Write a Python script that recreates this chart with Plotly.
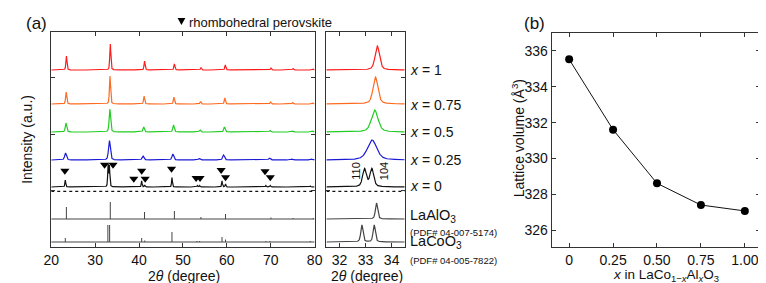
import numpy as np
import plotly.graph_objects as go

W, H = 766, 283

# ---------------- data ----------------
# Panel (a) main: peak positions (2theta, deg) and heights (a.u.)
RED_POS = [23.45, 33.45, 41.25, 48.05, 54.1, 59.65, 70.05, 75.1, 79.7]
RED_H = [14, 26, 9, 6, 2.5, 5, 2, 1.5, 1]
ORANGE_POS = [23.4, 33.38, 41.15, 47.95, 54.0, 59.55, 69.95, 75.0, 79.6]
ORANGE_H = [12, 28, 8, 7, 2.5, 6, 2, 1.5, 1]
GREEN_POS = [23.35, 33.35, 41.05, 47.85, 53.9, 59.45, 69.85, 74.9, 79.5]
GREEN_H = [9, 23, 5, 7, 2, 5, 1.5, 1, 1]
BLUE_POS = [23.25, 33.25, 40.9, 47.7, 53.7, 59.25, 69.7, 74.8, 79.3]
BLUE_H = [7, 19.5, 4, 6, 1.5, 5, 2, 1, 1]
BLACK_POS = [23.2, 32.95, 33.25, 40.6, 41.3, 47.5, 53.3, 53.8, 58.9, 59.7, 68.9, 69.9, 79.0]
BLACK_H = [7, 22, 21, 6, 2, 9.5, 1.5, 1.5, 6, 3, 1.5, 1.5, 1]

# Reference stick patterns
LAO_POS = [23.45, 33.45, 41.25, 48.05, 54.1, 59.7, 70.05, 75.1, 79.7]
LAO_H = [12, 17, 7, 8, 2, 5, 1.5, 1, 1]
LCO_POS = [23.2, 32.9, 33.3, 40.6, 41.3, 47.5, 53.2, 53.8, 58.9, 59.7, 68.9, 69.8, 79.0]
LCO_H = [4, 17, 17, 4, 1.5, 10, 1, 1, 5, 2.5, 1, 1, 1]

# Inset (31.5-34.5 deg): positions, heights, FWHM
RED_IN = ([33.45], [24], [0.2])
ORANGE_IN = ([33.38], [27], [0.22])
GREEN_IN = ([33.35], [22], [0.3])
BLUE_IN = ([33.25], [20], [0.42])
BLACK_IN = ([32.96, 33.24], [18, 18], [0.17, 0.17])
LAO_IN = ([33.42], [16], [0.1])
LCO_IN = ([32.86, 33.33], [17, 17], [0.1, 0.1])

# vertical offsets of each pattern
SAMPLE_LABELS = ["1", "0.75", "0.5", "0.25", "0"]
OFFSETS = [177, 143, 115, 87, 60]
COLORS = ["#ff1a1a", "#ff6a21", "#22cc22", "#1a1ad6", "#111111"]
MAIN_FWHM = [0.28, 0.3, 0.38, 0.48, 0.22]
DOT_Y = 55.7
LAO_OFF = 28
LCO_OFF = 5

# rhombohedral perovskite markers
TRI_X = [23.1, 32.15, 34.07, 38.8, 40.6, 41.4, 47.4, 53.0, 53.9, 58.7, 59.7, 68.7, 69.9]
TRI_Y = [76.3, 82.3, 82.3, 68.3, 76.3, 68.3, 78.3, 69, 69, 77, 69.7, 75.7, 69.7]

# Panel (b)
X_AL = [0, 0.25, 0.5, 0.75, 1.0]
VOLUME = [335.53, 331.61, 328.62, 327.41, 327.08]
XB_TICKS = [0, 0.25, 0.5, 0.75, 1.0]
XB_TEXT = ["0", "0.25", "0.50", "0.75", "1.00"]

# ---------------- helpers ----------------
def pv(x, pos, hts, ws, eta=0.5):
    y = np.zeros_like(x)
    for c, h, w in zip(pos, hts, ws):
        d = (x - c) / w
        y += h * (eta / (1 + 4 * d * d) + (1 - eta) * np.exp(-4 * np.log(2) * d * d))
    return y

def px_x(p):
    return p / W

def px_y(p):
    return 1 - p / H

xm = np.arange(20, 80.0001, 0.02)
xi = np.arange(31.5, 34.5001, 0.004)

fig = go.Figure()

all_main = [(RED_POS, RED_H), (ORANGE_POS, ORANGE_H), (GREEN_POS, GREEN_H),
            (BLUE_POS, BLUE_H), (BLACK_POS, BLACK_H)]
all_in = [RED_IN, ORANGE_IN, GREEN_IN, BLUE_IN, BLACK_IN]

for (pos, hts), (ip, ih, iw), off, col, fw in zip(all_main, all_in, OFFSETS, COLORS, MAIN_FWHM):
    ym = off + pv(xm, pos, hts, [fw] * len(pos))
    fig.add_trace(go.Scatter(x=xm, y=ym, mode="lines", line=dict(color=col, width=1.2),
                             xaxis="x", yaxis="y", showlegend=False, hoverinfo="skip"))
    yi = off + pv(xi, ip, ih, iw)
    fig.add_trace(go.Scatter(x=xi, y=yi, mode="lines", line=dict(color=col, width=1.2),
                             xaxis="x2", yaxis="y2", showlegend=False, hoverinfo="skip"))

# dotted separator
for xa, ya, rng in (("x", "y", [20, 80]), ("x2", "y2", [31.5, 34.5])):
    fig.add_trace(go.Scatter(x=rng, y=[DOT_Y, DOT_Y], mode="lines",
                             line=dict(color="#111", width=1.2, dash="dot"),
                             xaxis=xa, yaxis=ya, showlegend=False, hoverinfo="skip"))

# stick patterns (main)
for pos, hts, off in ((LAO_POS, LAO_H, LAO_OFF), (LCO_POS, LCO_H, LCO_OFF)):
    sx, sy = [20, 80, None], [off, off, None]
    for p, h in zip(pos, hts):
        sx += [p, p, None]
        sy += [off, off + h, None]
    fig.add_trace(go.Scatter(x=sx, y=sy, mode="lines", line=dict(color="#444", width=1),
                             xaxis="x", yaxis="y", showlegend=False, hoverinfo="skip"))

# reference profiles (inset)
for (ip, ih, iw), off in ((LAO_IN, LAO_OFF), (LCO_IN, LCO_OFF)):
    fig.add_trace(go.Scatter(x=xi, y=off + pv(xi, ip, ih, iw), mode="lines",
                             line=dict(color="#444", width=1.2),
                             xaxis="x2", yaxis="y2", showlegend=False, hoverinfo="skip"))

# triangles
fig.add_trace(go.Scatter(x=TRI_X, y=TRI_Y, mode="markers",
                         marker=dict(symbol="triangle-down", size=8, color="#000"),
                         xaxis="x", yaxis="y", showlegend=False, hoverinfo="skip"))

# panel (b)
fig.add_trace(go.Scatter(x=X_AL, y=VOLUME, mode="lines+markers",
                         line=dict(color="#111", width=1),
                         marker=dict(symbol="circle", size=8, color="#000"),
                         xaxis="x3", yaxis="y3", showlegend=False, hoverinfo="skip"))

FONT = "Arial, Liberation Sans, sans-serif"

axcommon = dict(showline=True, mirror="ticks", linecolor="#333", linewidth=1,
                ticks="inside", ticklen=4, tickcolor="#333", showgrid=False,
                zeroline=False, tickfont=dict(size=14, color="#111", family=FONT))

ya_main = dict(axcommon, range=[0, 215], domain=[px_y(239), px_y(24)],
               tickvals=[56.3, 113, 169.7], showticklabels=False)

fig.update_layout(
    width=W, height=H, margin=dict(l=0, r=0, t=0, b=0),
    paper_bgcolor="white", plot_bgcolor="white",
    font=dict(family=FONT, color="#111"),
    xaxis=dict(axcommon, domain=[px_x(36), px_x(305)], range=[20, 80],
               tickvals=[20, 30, 40, 50, 60, 70, 80], anchor="y"),
    yaxis=dict(ya_main, anchor="x"),
    xaxis2=dict(axcommon, domain=[px_x(317), px_x(397)], range=[31.5, 34.5],
                tickvals=[32, 33, 34], anchor="y2"),
    yaxis2=dict(ya_main, anchor="x2"),
    xaxis3=dict(axcommon, domain=[px_x(547), px_x(760)], range=[-0.1, 1.087],
                tickvals=XB_TICKS, ticktext=XB_TEXT, anchor="y3"),
    yaxis3=dict(axcommon, domain=[px_y(239), px_y(25)], range=[325.07, 337.0],
                tickvals=[326, 328, 330, 332, 334, 336], anchor="x3"),
)

def ann(text, x, y, size=13, xanchor="center", angle=0, yanchor="middle"):
    fig.add_annotation(text=text, x=px_x(x), y=px_y(y), xref="paper", yref="paper",
                       showarrow=False, font=dict(size=size, color="#111", family=FONT),
                       xanchor=xanchor, yanchor=yanchor, textangle=angle, borderpad=0)

ann("(a)", 21, 15, size=17)
ann("(b)", 530, 15, size=17)
# legend triangle
fig.add_shape(type="path", xref="paper", yref="paper",
              path="M {} {} L {} {} L {} {} Z".format(px_x(165), px_y(10), px_x(173), px_y(10),
                                                      px_x(169), px_y(17)),
              fillcolor="#000", line=dict(width=0))
ann("rhombohedral perovskite", 176, 14, size=13, xanchor="left")
ann("Intensity (a.u.)", 11, 131, size=14, angle=-90)
ann("2<i>θ</i> (degree)", 172, 268, size=14)
ann("2<i>θ</i> (degree)", 358, 268, size=14)
ann("<i>x</i> in LaCo<sub>1−<i>x</i></sub>Al<sub><i>x</i></sub>O<sub>3</sub>", 664, 267, size=13.5)
ann("Lattice volume (Å<sup>3</sup>)", 513, 130, size=14, angle=-90)

XL = 401
label_y = [62, 97, 124, 152, 178]
for lab, ly in zip(SAMPLE_LABELS, label_y):
    ann("<i>x</i> = " + lab, XL, ly, size=14, xanchor="left")
ann("LaAlO<sub>3</sub>", XL, 208, size=14.5, xanchor="left")
ann("(PDF# 04-007-5174)", XL, 224, size=9.5, xanchor="left")
ann("LaCoO<sub>3</sub>", XL, 233.5, size=14.5, xanchor="left")
ann("(PDF# 04-005-7822)", XL, 252, size=9.5, xanchor="left")
ann("110", 347, 163, size=11, angle=-90)
ann("104", 376, 163, size=11, angle=-90)

fig.write_html("out.html")
